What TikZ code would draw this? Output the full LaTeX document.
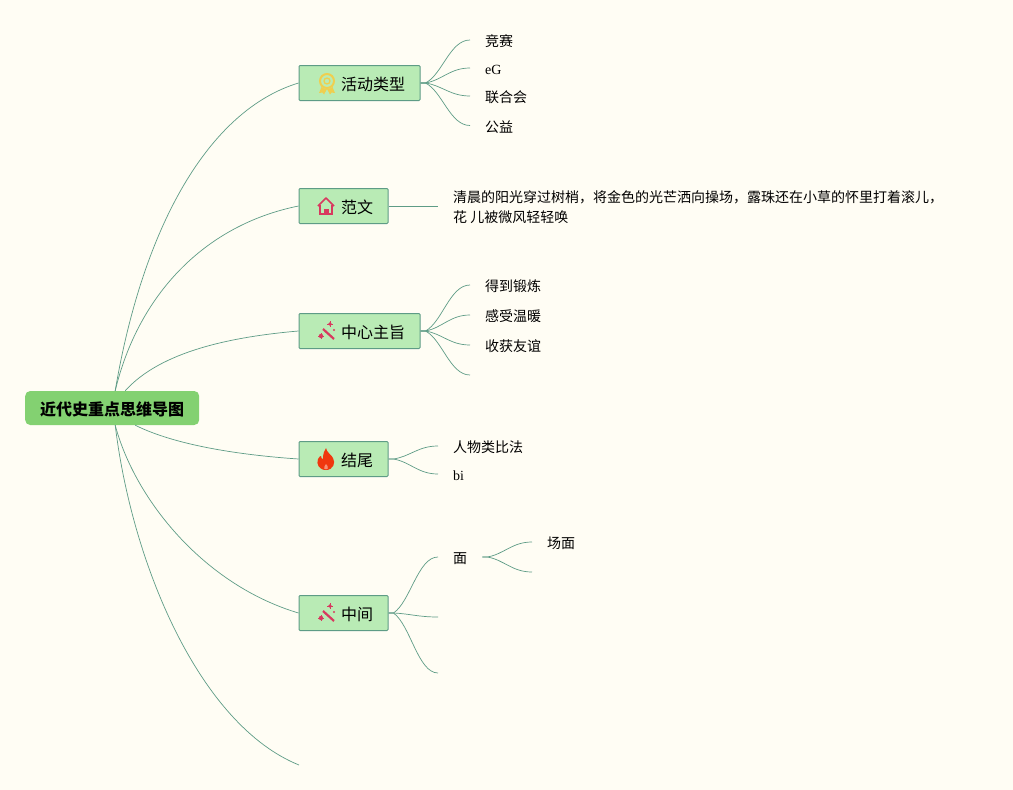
\documentclass[tikz,border=0pt]{standalone}
\usepackage{fontspec}
\usetikzlibrary{calc}
\setmainfont{Liberation Serif}
\newfontfamily\cjk{Noto Sans CJK SC}
\definecolor{paper}{HTML}{FFFDF4}
\definecolor{rootgreen}{HTML}{83D171}
\definecolor{boxgreen}{HTML}{B9EBB5}
\definecolor{linegreen}{HTML}{5E9C86}
\definecolor{medal}{HTML}{EFCF4F}
\definecolor{wand}{HTML}{D8395F}
\definecolor{flame}{HTML}{F0370F}
\begin{document}
\begin{tikzpicture}[x=1pt,y=-1pt]
    \tikzset{root/.style = {shape=rectangle,rounded corners=5pt,fill=rootgreen,anchor=west,inner xsep=15pt,inner ysep=0pt,minimum height=34pt,text height=14pt,text depth=0pt,font=\cjk\bfseries\fontsize{16}{20}\selectfont}}
    \tikzset{branch/.style = {shape=rectangle,rounded corners=1pt,draw=linegreen,fill=boxgreen,line width=1pt,anchor=west,inner xsep=15pt,inner ysep=0pt,minimum height=35pt,text height=14pt,text depth=0pt,font=\cjk\fontsize{16}{20}\selectfont}}
    \tikzset{leaf/.style = {anchor=west,inner xsep=15pt,inner ysep=0pt,text height=13.5pt,text depth=0pt,font=\cjk\fontsize{14}{20}\selectfont}}
    \tikzset{latin/.style = {leaf,text height=13pt,font=\fontsize{14}{20}\selectfont}}
    \tikzset{edge/.style = {draw=linegreen,line width=0.7pt}}
    \tikzset{link/.style = {edge,to path={-- ++(5,0) .. controls ($($(\tikztostart)!0.2!(\tikztotarget)$)+(12,0)$) and +(-20,0) .. (\tikztotarget)}}}
    \tikzset{medalicon/.pic = {
        \fill[medal] (-5,3) -- (-8,10) -- (-4.5,9.5) -- (-3,11.5) -- (0,6) -- (3,11.5) -- (4.5,9.5) -- (8,10) -- (5,3) -- cycle;
        \fill[boxgreen] (0,-2) circle (8);
        \draw[medal,line width=2pt] (0,-2) circle (7);
        \draw[medal,line width=1.3pt] (0,-2) circle (3);
    }}
    \tikzset{houseicon/.pic = {
        \draw[wand,line width=1.5pt,line join=round] (-8,0) -- (0,-8) -- (8,0);
        \draw[wand,line width=1.5pt] (-6,-1) -- (-6,8) -- (6,8) -- (6,-1);
        \fill[wand] (-2.5,8) -- (-2.5,3) -- (2.5,3) -- (2.5,8) -- cycle;
    }}
    \tikzset{wandicon/.pic = {
        \draw[wand,line width=2.2pt] (-3,-2) -- (8,8);
        \fill[wand] (-5,5) circle (2.2);
        \fill[wand] (4,-7) circle (1.8);
        \fill[wand] (8,-1) circle (1.1);
        \draw[wand,line width=0.8pt] (-8,5) -- (-2,5) (-5,2) -- (-5,8) (4,-10) -- (4,-4) (1,-7) -- (7,-7);
    }}
    \tikzset{flameicon/.pic = {
        \fill[flame] (0,-11) .. controls (1,-6) and (5,-5) .. (7,-1) .. controls (10,4) and (7,11) .. (0,11) .. controls (-7,11) and (-10,5) .. (-8,0) .. controls (-7,-3) and (-5,-3) .. (-5,-3) .. controls (-5,-1) and (-4,0) .. (-3,0) .. controls (-3,-5) and (-2,-8) .. (0,-11) -- cycle;
        \fill[flame!55!paper] (0,5) .. controls (1.5,6.5) and (2.2,8) .. (1.8,9.5) .. controls (1,10.5) and (-1,10.5) .. (-1.8,9.5) .. controls (-2.2,8) and (-1,6.5) .. (0,5) -- cycle;
    }}
    \useasboundingbox (0,0) rectangle (1013,790);
    \fill[paper] (0,0) rectangle (1013,790);
    % root and branches
    \node[root] (root) at (25,408) {近代史重点思维导图};
    \node[branch] (activity) at (298.5,83) {\hspace*{27pt}活动类型};
    \node[branch] (essay) at (298.5,206) {\hspace*{27pt}范文};
    \node[branch] (theme) at (298.5,331) {\hspace*{27pt}中心主旨};
    \node[branch] (ending) at (298.5,459) {\hspace*{27pt}结尾};
    \node[branch] (middle) at (298.5,613) {\hspace*{27pt}中间};
    \coordinate (lastend) at (299,765);
    % icons
    \pic at ([xshift=28.5pt]activity.west) {medalicon};
    \pic at ([xshift=27.5pt]essay.west) {houseicon};
    \pic at ([xshift=27.5pt]theme.west) {wandicon};
    \pic at ([xshift=27.5pt]ending.west) {flameicon};
    \pic at ([xshift=27.5pt]middle.west) {wandicon};
    % leaves
    \node[leaf] (race) at (470,40) {竞赛};
    \node[latin] (eg) at (470,68) {eG};
    \node[leaf] (league) at (470,96) {联合会};
    \node[leaf] (charity) at (470,125.5) {公益};
    \node[leaf,align=left,text height=,text depth=] (morning) at (438,207) {清晨的阳光穿过树梢，将金色的光芒洒向操场，露珠还在小草的怀里打着滚儿，\\花 儿被微风轻轻唤};
    \node[leaf] (train) at (470,285) {得到锻炼};
    \node[leaf] (warm) at (470,315) {感受温暖};
    \node[leaf] (friend) at (470,345) {收获友谊};
    \coordinate (themeend) at (470,375);
    \node[leaf] (analogy) at (438,446) {人物类比法};
    \node[latin] (bi) at (438,474) {bi};
    \node[leaf] (face) at (438,557) {面};
    \coordinate (midone) at (438,617);
    \coordinate (midtwo) at (438,673);
    \node[leaf] (scene) at (532,542) {场面};
    \coordinate (faceend) at (532,572);
    % edges from root
    \draw[edge] ([xshift=3pt]root.north) .. controls +(28,-166) and +(-89,27) .. (activity.west);
    \draw[edge] ([xshift=3pt]root.north) .. controls +(23,-96) and +(-94,19) .. (essay.west);
    \draw[edge] ([xshift=13pt]root.north) .. controls +(35,-39) and +(-69,6) .. (theme.west);
    \draw[edge] ([xshift=23pt]root.south) .. controls +(40,20) and +(-59,-4) .. (ending.west);
    \draw[edge] ([xshift=3pt]root.south) .. controls +(20,75) and +(-94,-28) .. (middle.west);
    \draw[edge] ([xshift=3pt]root.south) .. controls +(17,140) and +(-99,-40) .. (lastend);
    % edges to leaves
    \foreach \target in {race,eg,league,charity}
        \draw[link] (activity.east) to (\target.west);
    \draw[edge] (essay.east) -- (morning.west |- essay.east);
    \foreach \target in {train,warm,friend}
        \draw[link] (theme.east) to (\target.west);
    \draw[link] (theme.east) to (themeend);
    \draw[link] (ending.east) to (analogy.west);
    \draw[link] (ending.east) to (bi.west);
    \draw[link] (middle.east) to (face.west);
    \draw[link] (middle.east) to (midone);
    \draw[link] (middle.east) to (midtwo);
    \draw[link] (face.east) to (scene.west);
    \draw[link] (face.east) to (faceend);
\end{tikzpicture}
\end{document}
